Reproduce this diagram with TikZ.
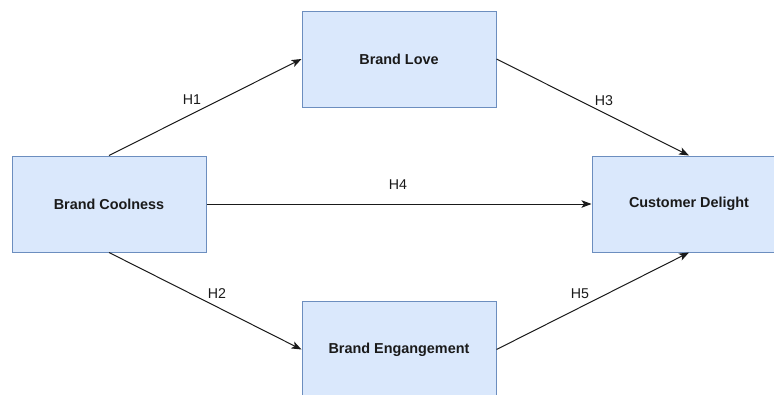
\documentclass[tikz,border=0pt]{standalone}
\usepackage{fontspec}
\setmainfont{Liberation Sans}
\usetikzlibrary{arrows.meta}
\definecolor{boxfill}{HTML}{DAE8FC}
\definecolor{boxline}{HTML}{6C8EBF}
\definecolor{inkline}{HTML}{1A1A1A}
\begin{document}
\begin{tikzpicture}[x=1pt,y=-1pt,
  box/.style={draw=boxline, fill=boxfill, line width=1pt,
    minimum width=194pt, minimum height=96pt, inner sep=0pt,
    font=\fontsize{14.4}{16}\selectfont\bfseries, text=inkline},
  link/.style={draw=inkline, line width=1pt,
    -{Stealth[length=10pt,width=7.5pt,inset=2.5pt]}},
  lbl/.style={font=\fontsize{14.2}{16}\selectfont, text=inkline, inner sep=0pt}]
\useasboundingbox (0,0) rectangle (774,394);
\clip (0,0) rectangle (774,394);
\fill[white] (0,0) rectangle (774,394);

% constructs
\node[box] (cool) at (109,204) {Brand Coolness};
\node[box] (love) at (399,59) {Brand Love};
\node[box] (eng) at (399,349.5) {Brand Engangement};
\node[box] (del) at (689,204) {Customer Delight};

% hypothesised paths
\draw[link] (cool.north) -- (love.west);
\draw[link] (cool.south) -- (eng.west);
\draw[link] (cool.east) -- (del.west);
\draw[link] (love.east) -- (del.north);
\draw[link] (eng.east) -- (del.south);

% path labels
\node[lbl] (h1) at (192,100) {H1};
\node[lbl] (h2) at (217,294) {H2};
\node[lbl] (h3) at (604,101) {H3};
\node[lbl] (h4) at (398,185) {H4};
\node[lbl] (h5) at (580,294) {H5};
\end{tikzpicture}
\end{document}
